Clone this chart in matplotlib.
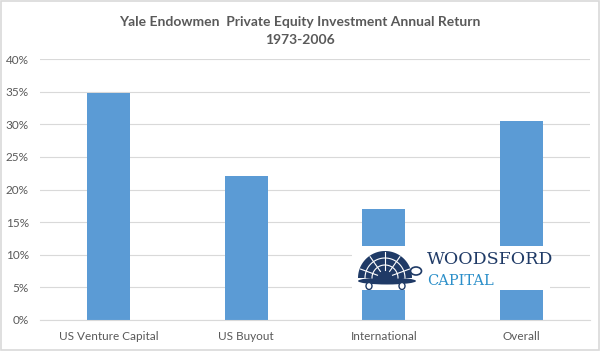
import numpy as np
import matplotlib.pyplot as plt
from matplotlib.patches import Rectangle, Ellipse, Polygon

categories = ["US Venture Capital", "US Buyout", "International", "Overall"]
returns = [34.8, 22.1, 17.0, 30.5]
yticks = [0, 5, 10, 15, 20, 25, 30, 35, 40]

plt.rcParams['font.family'] = ['Lato', 'DejaVu Sans']

W, H = 600, 351
fig = plt.figure(figsize=(6.0, 3.51), dpi=100)
ax = fig.add_axes([40 / W, 1 - 320 / H, 550 / W, 261 / H])

x = range(len(categories))
ax.bar(x, returns, width=0.31, color="#5B9BD5", zorder=2)
ax.set_xlim(-0.5, len(categories) - 0.5)
ax.set_ylim(0, 40)
ax.set_yticks(yticks)
ax.set_yticklabels([f"{t}%" for t in yticks])
ax.set_xticks(list(x))
ax.set_xticklabels(categories)
ax.tick_params(length=0, labelsize=8.5, labelcolor="#595959", pad=8)
ax.grid(axis='y', color="#D9D9D9", linewidth=0.8, zorder=0)
for s in ["top", "right", "left"]:
    ax.spines[s].set_visible(False)
ax.spines["bottom"].set_color("#D9D9D9")

fig.text(0.5, 0.955, "Yale Endowmen  Private Equity Investment Annual Return\n1973-2006",
         ha='center', va='top', fontsize=10, fontweight='bold', color="#595959",
         linespacing=1.6)

# figure border
fig.patches.append(Rectangle((0.002, 0.003), 0.996, 0.994, transform=fig.transFigure,
                             fill=False, edgecolor="#D9D9D9", linewidth=1.2))

# logo watermark, drawn in its own axes in pixel units
lx, ly, lw, lh = 352, 290, 198, 44
logo = fig.add_axes([lx / W, 1 - ly / H, lw / W, lh / H])
logo.set_xlim(0, lw)
logo.set_ylim(0, lh)
logo.set_facecolor("white")
logo.axis("off")
logo.add_patch(Rectangle((0, 0), lw, lh, facecolor="white", edgecolor="none"))
navy = "#1F3A66"
t = np.linspace(0, np.pi, 60)
shell = np.column_stack([33 + 27 * np.cos(t), 12 + 27 * np.sin(t)])
logo.add_patch(Polygon(shell, closed=True, facecolor=navy, edgecolor="none"))
for r in [20, 13]:
    arc = np.column_stack([33 + r * np.cos(t), 12 + r * np.sin(t)])
    logo.plot(arc[:, 0], arc[:, 1], color="white", lw=0.8)
for a in np.linspace(0.35, np.pi - 0.35, 5):
    logo.plot([33 + 8 * np.cos(a), 33 + 26 * np.cos(a)],
              [12 + 8 * np.sin(a), 12 + 26 * np.sin(a)], color="white", lw=0.8)
logo.add_patch(Ellipse((35, 9), 58, 7, facecolor=navy, edgecolor="none"))
logo.add_patch(Ellipse((64, 19), 11, 8, facecolor="white", edgecolor=navy, lw=1.2))
logo.add_patch(Ellipse((17, 4), 6, 7, facecolor="white", edgecolor=navy, lw=1.0))
logo.add_patch(Ellipse((50, 4), 6, 7, facecolor="white", edgecolor=navy, lw=1.0))
logo.text(75, 31, "WOODSFORD", fontsize=12.5, color=navy, family='DejaVu Serif',
          va='center', ha='left')
logo.text(75, 9, "CAPITAL", fontsize=10.5, color="#2B8FC9", family='DejaVu Serif',
          va='center', ha='left')

fig.savefig("out.png", dpi=100)
